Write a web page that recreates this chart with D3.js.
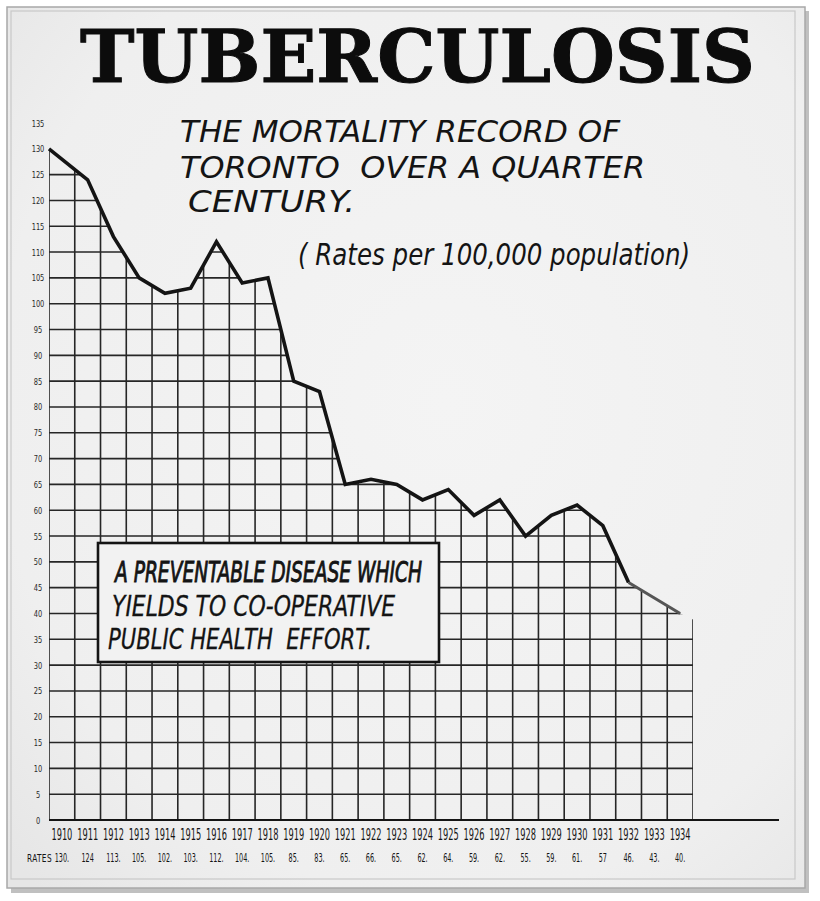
<!DOCTYPE html>
<html>
<head>
<meta charset="utf-8">
<script src="https://cdn.jsdelivr.net/npm/d3@7"></script>
<style>
  html, body { margin: 0; padding: 0; background: #ffffff; }
  svg { display: block; }
  .pre { white-space: pre; }
</style>
</head>
<body>
<svg id="chart" width="820" height="901"></svg>
<script>
// ---- data ----
const years = [1910,1911,1912,1913,1914,1915,1916,1917,1918,1919,1920,1921,1922,1923,1924,1925,1926,1927,1928,1929,1930,1931,1932,1933,1934];
const rates = [130,124,113,105,102,103,112,104,105,85,83,65,66,65,62,64,59,62,55,59,61,57,46,43,40];
const rateLabels = ["130.","124","113.","105.","102.","103.","112.","104.","105.","85.","83.","65.","66.","65.","62.","64.","59.","62.","55.","59.","61.","57","46.","43.","40."];
const yTicks = [0,5,10,15,20,25,30,35,40,45,50,55,60,65,70,75,80,85,90,95,100,105,110,115,120,125,130,135];
const gridValues = [5,10,15,20,25,30,35,40,45,50,55,60,65,70,75,80,85,90,95,100,105,110,115,120,125,130];
const titleText = "TUBERCULOSIS";
const subtitleLines = ["THE MORTALITY RECORD OF", "TORONTO  OVER A QUARTER", "CENTURY."];
const unitsText = "( Rates per 100,000 population)";
const boxLines = ["A PREVENTABLE DISEASE WHICH", "YIELDS TO CO-OPERATIVE", "PUBLIC HEALTH  EFFORT."];

// ---- setup ----
const svg = d3.select("#chart");
const ink = "#141414";
const condensed = "'DejaVu Sans Condensed', 'DejaVu Sans', sans-serif";

const defs = svg.append("defs");
const grad = defs.append("radialGradient").attr("id", "paper")
  .attr("cx", "55%").attr("cy", "45%").attr("r", "75%");
grad.append("stop").attr("offset", "0%").attr("stop-color", "#f4f4f4");
grad.append("stop").attr("offset", "75%").attr("stop-color", "#efefef");
grad.append("stop").attr("offset", "100%").attr("stop-color", "#e6e6e6");

// poster board with shadow
svg.append("rect").attr("x", 11).attr("y", 11).attr("width", 798).attr("height", 882)
  .attr("fill", "#8c8c8c").attr("opacity", 0.55);
svg.append("rect").attr("x", 7).attr("y", 7).attr("width", 798).attr("height", 881)
  .attr("fill", "url(#paper)").attr("stroke", "#a8a8a8").attr("stroke-width", 1.5);
svg.append("rect").attr("x", 11).attr("y", 11).attr("width", 784).attr("height", 868)
  .attr("fill", "none").attr("stroke", "#c8c8c8").attr("stroke-width", 1.2);

// scales
const x = d3.scaleBand().domain(years).range([49, 693]).padding(0);
const y = d3.scaleLinear().domain([0, 135]).range([820, 123]);
const bw = x.bandwidth();

// line points: first year anchored at left edge of grid, others at column centres
const pts = years.map((yr, i) => ({ px: i === 0 ? x(yr) : x(yr) + bw / 2, py: y(rates[i]) }));
const clipPts = pts.concat([{ px: x.range()[1], py: y(rates[rates.length - 1]) + 6 }]);

const area = d3.area().x(d => d.px).y0(y(0)).y1(d => d.py);
defs.append("clipPath").attr("id", "under")
  .append("path").attr("d", area(clipPts));

// grid under the curve
const grid = svg.append("g").attr("clip-path", "url(#under)")
  .attr("stroke", "#262626").attr("stroke-width", 1.6);
grid.selectAll("line.h").data(gridValues).join("line").attr("class", "h")
  .attr("x1", x.range()[0]).attr("x2", x.range()[1])
  .attr("y1", d => y(d)).attr("y2", d => y(d));
const vEdges = years.map(yr => x(yr)).concat([x.range()[1]]);
grid.selectAll("line.v").data(vEdges).join("line").attr("class", "v")
  .attr("x1", d => d).attr("x2", d => d)
  .attr("y1", y(0)).attr("y2", y(135));

// baseline
svg.append("line").attr("x1", x.range()[0]).attr("x2", x.range()[1] + 86)
  .attr("y1", y(0)).attr("y2", y(0)).attr("stroke", ink).attr("stroke-width", 2);

// data line
const line = d3.line().x(d => d.px).y(d => d.py);
svg.append("path").attr("d", line(pts.slice(0, 23)))
  .attr("fill", "none").attr("stroke", ink).attr("stroke-width", 3.6)
  .attr("stroke-linejoin", "miter");
svg.append("path").attr("d", line(pts.slice(22)))
  .attr("fill", "none").attr("stroke", "#555").attr("stroke-width", 3)
  .attr("stroke-linejoin", "miter");

// helper: squeeze a text horizontally to a target width
function fitWidth(node, target) {
  const w = node.getComputedTextLength();
  return w > 0 ? Math.min(1, target / w) : 1;
}

// y tick labels
svg.append("g").selectAll("text").data(yTicks).join("text")
  .attr("text-anchor", "middle")
  .attr("font-family", condensed)
  .attr("font-size", 9.5).attr("fill", "#2a2a2a")
  .text(d => d)
  .each(function (d) {
    d3.select(this).attr("transform", `translate(38,${y(d) + 3.5}) scale(0.78,1)`);
  });

// year labels
svg.append("g").selectAll("text").data(years).join("text")
  .attr("text-anchor", "middle")
  .attr("font-family", condensed)
  .attr("font-size", 16.5).attr("fill", ink)
  .text(d => d)
  .each(function (d) {
    const s = fitWidth(this, 21);
    d3.select(this).attr("transform", `translate(${x(d) + bw / 2},840) scale(${s},1)`);
  });

// rates row
svg.append("text")
  .attr("font-family", condensed)
  .attr("font-size", 10.5).attr("fill", ink).attr("letter-spacing", 0.5)
  .text("RATES")
  .each(function () {
    const s = fitWidth(this, 25);
    d3.select(this).attr("transform", `translate(27,862) scale(${s},1)`);
  });
svg.append("g").selectAll("text").data(rateLabels).join("text")
  .attr("text-anchor", "middle")
  .attr("font-family", condensed)
  .attr("font-size", 12).attr("fill", ink)
  .text(d => d)
  .each(function (d, i) {
    d3.select(this).attr("transform", `translate(${x(years[i]) + bw / 2},862) scale(0.6,1)`);
  });

// title
svg.append("text").attr("x", 80).attr("y", 82)
  .attr("font-family", "'DejaVu Serif', 'Liberation Serif', serif")
  .attr("font-weight", "bold").attr("font-size", 72).attr("fill", "#0c0c0c")
  .attr("stroke", "#0c0c0c").attr("stroke-width", 1)
  .attr("textLength", 675).attr("lengthAdjust", "spacingAndGlyphs")
  .text(titleText);

// subtitle
const subPos = [{ x: 180, y: 142, w: 440 }, { x: 180, y: 178, w: 465 }, { x: 188, y: 212, w: 167 }];
svg.append("g").selectAll("text").data(subtitleLines).join("text")
  .attr("class", "pre")
  .attr("x", (d, i) => subPos[i].x).attr("y", (d, i) => subPos[i].y)
  .attr("font-family", condensed)
  .attr("font-style", "italic").attr("font-size", 29.5).attr("fill", ink)
  .attr("textLength", (d, i) => subPos[i].w).attr("lengthAdjust", "spacingAndGlyphs")
  .text(d => d);

svg.append("text").attr("x", 298).attr("y", 265)
  .attr("font-family", condensed)
  .attr("font-style", "italic").attr("font-size", 31).attr("fill", ink)
  .attr("textLength", 392).attr("lengthAdjust", "spacingAndGlyphs")
  .text(unitsText);

// annotation box
svg.append("rect").attr("x", 98).attr("y", 543).attr("width", 341).attr("height", 119)
  .attr("fill", "#f2f2f2").attr("stroke", ink).attr("stroke-width", 2.6);
const boxPos = [{ x: 115, y: 582, w: 307 }, { x: 112, y: 616, w: 283 }, { x: 108, y: 649, w: 264 }];
svg.append("g").selectAll("text").data(boxLines).join("text")
  .attr("class", "pre")
  .attr("x", (d, i) => boxPos[i].x).attr("y", (d, i) => boxPos[i].y)
  .attr("font-family", condensed)
  .attr("font-style", "italic").attr("font-size", 28)
  .attr("fill", ink)
  .attr("stroke", ink).attr("stroke-width", (d, i) => i === 0 ? 0.9 : 0.3)
  .attr("textLength", (d, i) => boxPos[i].w).attr("lengthAdjust", "spacingAndGlyphs")
  .text(d => d);
</script>
</body>
</html>
